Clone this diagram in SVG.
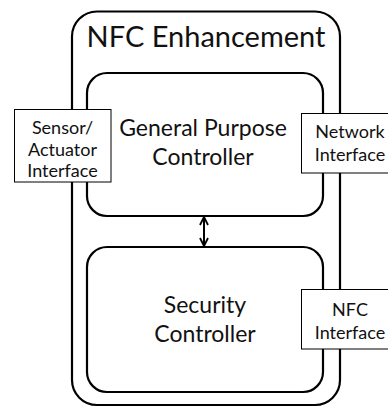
<svg xmlns="http://www.w3.org/2000/svg" width="388" height="409" viewBox="0 0 388 409">
<style>
.big{fill:#fff;stroke:#000;stroke-width:2.2}
.ifc{fill:#fff;stroke:#000;stroke-width:1}
text{font-family:Lato,"Open Sans",sans-serif;fill:#111;text-anchor:middle}
.t1{font-size:29px}
.t2{font-size:23px}
.t3{font-size:18px}
</style>
<defs>
<marker id="ah" viewBox="0 0 10 10" refX="9" refY="5" markerWidth="10" markerHeight="10" markerUnits="userSpaceOnUse" orient="auto-start-reverse">
<path d="M1,1 L9,5 L1,9" fill="none" stroke="#000" stroke-width="1.8"/>
</marker>
</defs>
<g id="nfc-enhancement">
<rect class="big" x="72" y="11.5" width="268" height="393.5" rx="25"/>
<text class="t1" x="206" y="47">NFC Enhancement</text>
</g>
<g id="general-purpose-controller">
<rect class="big" x="87" y="73" width="236" height="143" rx="20"/>
<text class="t2" x="203" y="136">General Purpose</text>
<text class="t2" x="203" y="165">Controller</text>
</g>
<g id="security-controller">
<rect class="big" x="87" y="247" width="236" height="145" rx="20"/>
<text class="t2" x="205" y="313">Security</text>
<text class="t2" x="205" y="342">Controller</text>
</g>
<g id="sensor-actuator-interface">
<rect class="ifc" x="14.5" y="109.5" width="96.5" height="72.5"/>
<text class="t3" x="62.5" y="134">Sensor/</text>
<text class="t3" x="62.5" y="155.5">Actuator</text>
<text class="t3" x="62.5" y="177">Interface</text>
</g>
<g id="network-interface">
<rect class="ifc" x="301.5" y="113.5" width="90" height="59.5"/>
<text class="t3" x="350" y="138">Network</text>
<text class="t3" x="350" y="161">Interface</text>
</g>
<g id="nfc-interface">
<rect class="ifc" x="301.5" y="289.5" width="90" height="59.5"/>
<text class="t3" x="350" y="316">NFC</text>
<text class="t3" x="350" y="339">Interface</text>
</g>
<g id="connectors">
<line x1="204" y1="217" x2="204" y2="246" stroke="#000" stroke-width="2" marker-start="url(#ah)" marker-end="url(#ah)"/>
</g>
</svg>
